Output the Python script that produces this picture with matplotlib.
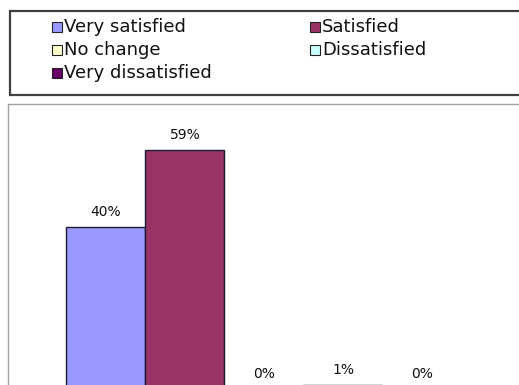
import matplotlib
matplotlib.use("Agg")
import matplotlib.pyplot as plt
from matplotlib.patches import Rectangle

# Donnees
categories = ["Very satisfied", "Satisfied", "No change", "Dissatisfied", "Very dissatisfied"]
values = [40, 59, 0, 1, 0]
labels = ["40%", "59%", "0%", "1%", "0%"]
colors = ["#9999ff", "#993366", "#ffffcc", "#ccffff", "#660066"]

W, H = 519, 385
fig = plt.figure(figsize=(W / 100, H / 100), dpi=100)
fig.patch.set_facecolor("white")


def fx(x):
    return x / W


def fy(y):
    # y compte depuis le haut de l'image
    return 1 - y / H


# Cadre de la legende (coupe a droite comme sur l'original)
fig.patches.append(Rectangle((fx(10), fy(95)), fx(530) - fx(10), fy(11) - fy(95),
                             transform=fig.transFigure, facecolor="white",
                             edgecolor="#404040", linewidth=1.6, zorder=1))

for i, (cat, col) in enumerate(zip(categories, colors)):
    row, c = i // 2, i % 2
    x0 = 52 if c == 0 else 310
    yc = 27 + 23 * row
    fig.patches.append(Rectangle((fx(x0), fy(yc + 5)), fx(10), 10 / H,
                                 transform=fig.transFigure, facecolor=col,
                                 edgecolor="#222222", linewidth=0.8, zorder=2))
    fig.text(fx(x0 + 12), fy(yc), cat, fontsize=13, va="center", ha="left",
             color="#111111")

# Zone du graphique : le bas est coupe par l'image
base_px = 389
top_px = 104
ax = fig.add_axes([fx(8), fy(base_px), 1.0, (base_px - top_px) / H])
x = list(range(len(values)))
ax.bar(x, values, width=1.0, color=colors, edgecolor="#1a1a33", linewidth=1.0)
ax.set_xlim(-1.24, -1.24 + 519 / 79)
ax.set_ylim(0, (base_px - top_px) / 4.05)

for xi, v, lab in zip(x, values, labels):
    ax.annotate(lab, (xi, v), xytext=(0, 6), textcoords="offset points",
                ha="center", va="bottom", fontsize=10, color="#111111")

ax.set_xticks([])
ax.set_yticks([])
for side in ["left", "top"]:
    ax.spines[side].set_color("#a0a0a0")
    ax.spines[side].set_linewidth(1.0)
ax.spines["right"].set_visible(False)
ax.spines["bottom"].set_visible(False)

fig.savefig("out.png", dpi=100)
